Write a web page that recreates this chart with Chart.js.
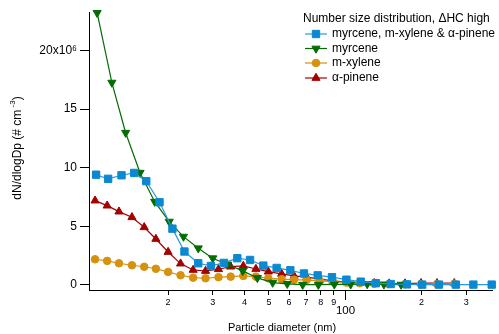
<!DOCTYPE html>
<html lang="en">
<head>
<meta charset="UTF-8">
<title>Number size distribution</title>
<style>
  body { margin: 0; background: #fff; }
  canvas { display: block; }
</style>
</head>
<body>
<canvas id="chart" width="499" height="334"></canvas>
<script src="https://cdn.jsdelivr.net/npm/chart.js@4.4.1/dist/chart.umd.min.js"></script>
<script>
// dN/dlogDp in units of 10^6 # cm^-3, diameters in nm
const dpMix = [10.4, 11.6, 13.1, 14.7, 16.4, 18.5, 20.8, 23.2, 26.3, 29.5, 33.2, 37.5, 42.1, 47.5, 53.6, 60.7, 68.7, 77.8, 88.6, 101, 115, 132, 151, 175, 201, 234, 273, 320, 378];
const nMix = [9.40, 9.05, 9.35, 9.55, 8.85, 7.05, 4.80, 2.85, 1.85, 1.62, 1.88, 2.28, 2.13, 1.65, 1.45, 1.25, 0.98, 0.82, 0.66, 0.45, 0.28, 0.15, 0.08, 0.05, 0.03, 0.03, 0.03, 0.03, 0.03];

const dpMyrcene = [10.5, 12.0, 13.6, 15.5, 17.7, 20.2, 23.0, 26.3, 30.0, 34.3, 39.4, 45.0, 51.7, 59.0, 67.9, 78.3, 90.5, 105, 122, 142, 166];
const nMyrcene = [23.2, 17.25, 12.98, 9.57, 7.10, 5.40, 4.12, 3.13, 2.28, 1.75, 1.20, 0.60, 0.20, 0.10, 0.02, 0.02, 0.05, 0.05, 0.08, 0.05, 0.03];

// m-xylene and alpha-pinene were measured on the same diameter grid
const dpSingle = [10.3, 11.5, 12.8, 14.4, 16.1, 17.9, 20.0, 22.4, 25.1, 28.1, 31.6, 35.3, 39.6, 44.4, 49.7, 56.1, 62.8, 70.4, 79.5, 89.4, 101, 114, 130, 149, 172, 199, 230, 269];
const nXylene = [2.19, 2.05, 1.85, 1.68, 1.55, 1.38, 1.11, 0.83, 0.62, 0.57, 0.66, 0.71, 0.77, 0.71, 0.57, 0.49, 0.45, 0.42, 0.34, 0.28, 0.20, 0.15, 0.10, 0.08, 0.06, 0.06, 0.08, 0.10];
const nPinene = [7.19, 6.76, 6.25, 5.77, 4.92, 3.92, 2.81, 1.82, 1.28, 1.19, 1.34, 1.56, 1.62, 1.36, 1.13, 0.94, 0.77, 0.66, 0.49, 0.35, 0.25, 0.20, 0.15, 0.12, 0.12, 0.15, 0.15, 0.15];

const xTicks = [20, 30, 40, 50, 60, 70, 80, 90, 100, 200, 300];
const yTicks = [0, 5, 10, 15, 20];

const FONT = "'Liberation Sans', Arial, sans-serif";

function pts(xs, ys) {
  return xs.map((x, i) => ({ x: x, y: ys[i] }));
}

function series(label, xs, ys, color, lineColor, style, radius, rotation) {
  return {
    label: label,
    data: pts(xs, ys),
    borderColor: lineColor,
    borderWidth: 1.2,
    backgroundColor: color,
    pointStyle: style,
    pointRadius: radius,
    pointRotation: rotation,
    pointBackgroundColor: color,
    pointBorderColor: color,
    pointBorderWidth: 1,
    tension: 0,
    clip: false
  };
}

// first dataset ends up on top
const datasets = [
  series('myrcene, m-xylene & α-pinene', dpMix, nMix, '#0b89d0', '#2a98de', 'rect', 5.2, 0),
  series('myrcene', dpMyrcene, nMyrcene, '#046c04', '#046c04', 'triangle', 4.7, 180),
  series('m-xylene', dpSingle, nXylene, '#d6920f', '#d6920f', 'circle', 3.8, 0),
  series('α-pinene', dpSingle, nPinene, '#a30000', '#a30000', 'triangle', 4.7, 0)
];

function drawMarker(ctx, ds, x, y) {
  const r = ds.pointRadius;
  ctx.save();
  ctx.fillStyle = ds.pointBackgroundColor;
  ctx.strokeStyle = ds.pointBorderColor;
  ctx.lineWidth = ds.pointBorderWidth;
  ctx.beginPath();
  if (ds.pointStyle === 'rect') {
    const s = r * Math.SQRT1_2;
    ctx.rect(x - s, y - s, 2 * s, 2 * s);
  } else if (ds.pointStyle === 'circle') {
    ctx.arc(x, y, r, 0, Math.PI * 2);
  } else {
    let a = ds.pointRotation * Math.PI / 180;
    for (let k = 0; k < 3; k++) {
      const px = x + Math.sin(a) * r, py = y - Math.cos(a) * r;
      if (k === 0) ctx.moveTo(px, py); else ctx.lineTo(px, py);
      a += 2 * Math.PI / 3;
    }
  }
  ctx.closePath();
  ctx.fill();
  ctx.stroke();
  ctx.restore();
}

const extras = {
  id: 'extras',
  afterDraw(chart) {
    const ctx = chart.ctx;
    const xs = chart.scales.x;
    const area = chart.chartArea;
    ctx.save();
    ctx.fillStyle = '#000';
    ctx.strokeStyle = '#000';

    // decade tick and its label
    const x100 = Math.round(xs.getPixelForValue(100)) + 0.5;
    ctx.lineWidth = 1;
    ctx.beginPath();
    ctx.moveTo(x100, area.bottom);
    ctx.lineTo(x100, area.bottom + 10);
    ctx.stroke();
    ctx.font = '11.5px ' + FONT;
    ctx.textAlign = 'center';
    ctx.textBaseline = 'middle';
    ctx.fillText('100', x100, 311);

    // x title
    ctx.font = '11px ' + FONT;
    ctx.fillText('Particle diameter (nm)', 282, 328);

    // y title with superscript
    ctx.save();
    ctx.translate(18, 148);
    ctx.rotate(-Math.PI / 2);
    ctx.textAlign = 'left';
    ctx.textBaseline = 'middle';
    const main = 'dN/dlogDp (# cm';
    ctx.font = '12px ' + FONT;
    const w1 = ctx.measureText(main).width;
    ctx.font = '8px ' + FONT;
    const w2 = ctx.measureText(' -3').width;
    ctx.font = '12px ' + FONT;
    const w3 = ctx.measureText(')').width;
    let x0 = -(w1 + w2 + w3) / 2;
    ctx.fillText(main, x0, 0);
    ctx.font = '8px ' + FONT;
    ctx.fillText(' -3', x0 + w1, -5);
    ctx.font = '12px ' + FONT;
    ctx.fillText(')', x0 + w1 + w2, 0);
    ctx.restore();

    // legend
    ctx.font = '12px ' + FONT;
    ctx.textAlign = 'left';
    ctx.textBaseline = 'middle';
    ctx.fillText('Number size distribution, \u0394HC high', 303, 19);
    const rows = [34, 48.5, 63, 78];
    chart.data.datasets.forEach((ds, i) => {
      const y = rows[i];
      ctx.strokeStyle = ds.borderColor;
      ctx.lineWidth = ds.borderWidth;
      ctx.beginPath();
      ctx.moveTo(305, y);
      ctx.lineTo(327, y);
      ctx.stroke();
      drawMarker(ctx, ds, 316, y);
      ctx.fillStyle = '#000';
      ctx.fillText(ds.label, 332, y);
    });
    ctx.restore();
  }
};

new Chart(document.getElementById('chart'), {
  type: 'line',
  data: { datasets: datasets },
  options: {
    responsive: false,
    animation: false,
    devicePixelRatio: 1,
    layout: { padding: { top: 12, right: 7, left: 0, bottom: 0 } },
    plugins: { legend: { display: false }, tooltip: { enabled: false } },
    scales: {
      x: {
        type: 'logarithmic',
        min: 9.75,
        max: 379,
        afterBuildTicks: s => { s.ticks = xTicks.map(v => ({ value: v })); },
        afterFit: s => { s.height = 44; },
        border: { color: '#000', width: 1 },
        grid: { drawOnChartArea: false, tickLength: 5, color: '#000', tickColor: '#000' },
        ticks: {
          autoSkip: false,
          maxRotation: 0,
          padding: 2,
          color: '#000',
          font: { size: 9, family: FONT },
          callback: v => v === 100 ? '' : String(v >= 100 ? v / 100 : v / 10)
        }
      },
      y: {
        min: -0.43,
        max: 23.27,
        afterBuildTicks: s => { s.ticks = yTicks.map(v => ({ value: v })); },
        afterFit: s => { s.width = 89; },
        border: { color: '#000', width: 1 },
        grid: { drawOnChartArea: false, tickLength: 9, color: '#000', tickColor: '#000' },
        ticks: {
          padding: 3,
          color: '#000',
          font: { size: 12, family: FONT },
          callback: v => v === 20 ? '20x10\u2076' : String(v)
        }
      }
    }
  },
  plugins: [extras]
});
</script>
</body>
</html>
